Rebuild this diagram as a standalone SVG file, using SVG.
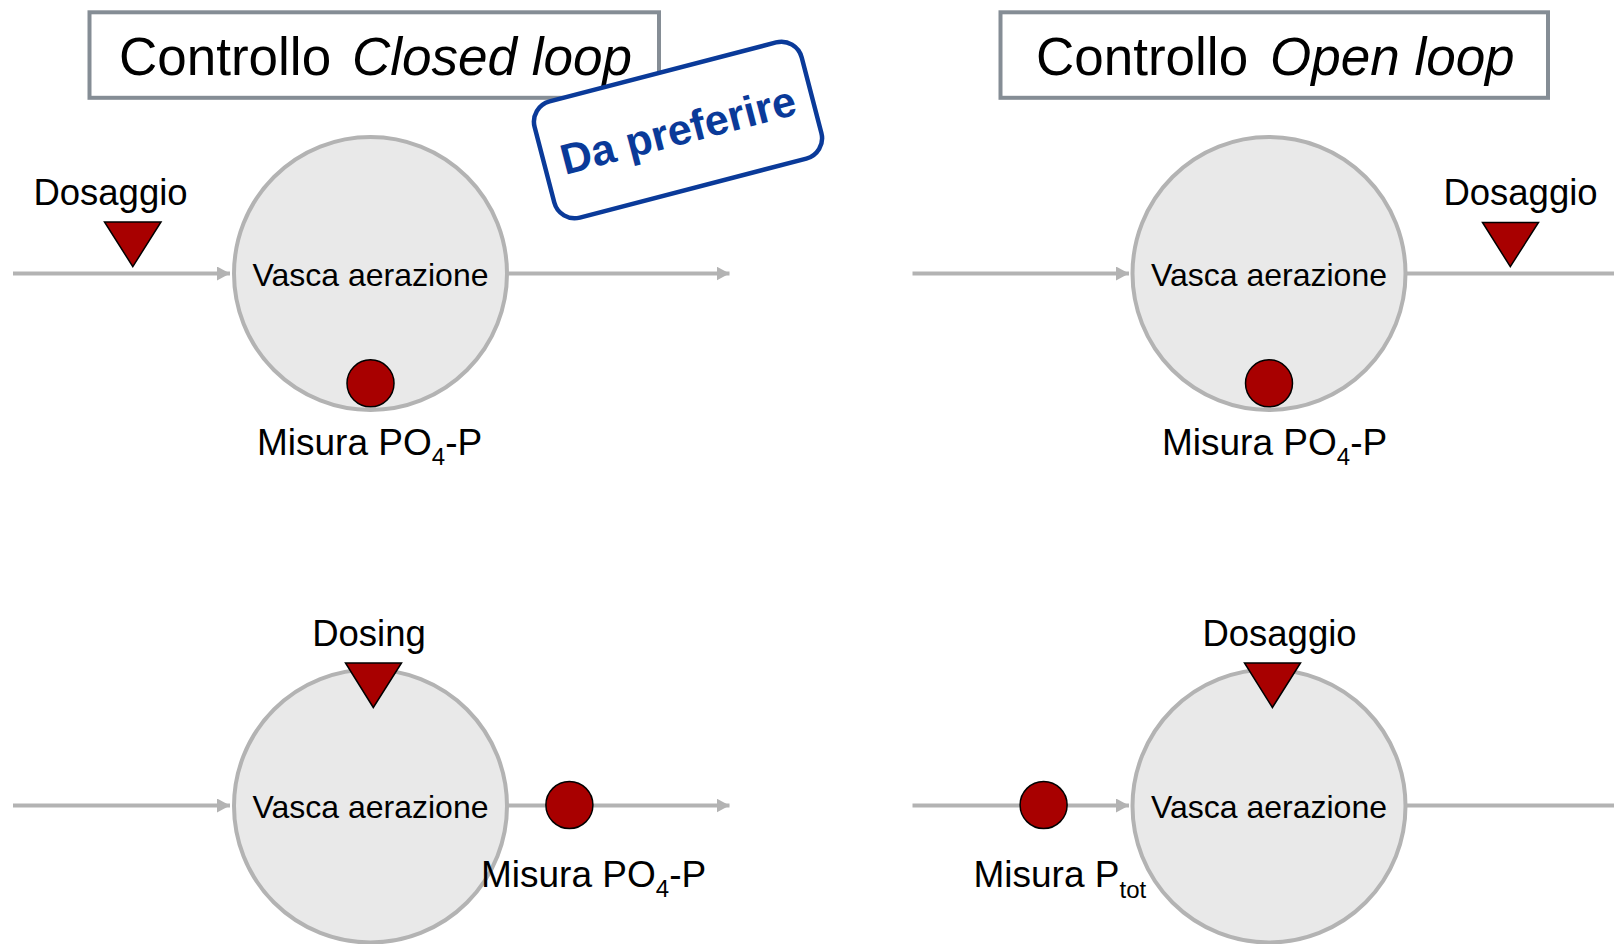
<svg xmlns="http://www.w3.org/2000/svg" width="1614" height="944" viewBox="0 0 1614 944">
<style>
.title{fill:#fff;stroke:#858d95;stroke-width:4}
.tt{font-family:"Liberation Sans",Arial,sans-serif;font-size:53px;fill:#000}
.tank{fill:#e9e9e9;stroke:#b3b3b3;stroke-width:4}
.conn{stroke:#b3b3b3;stroke-width:4;fill:none}
.lbl{font-family:"Liberation Sans",Arial,sans-serif;font-size:36.5px;fill:#000}
.ml{font-family:"Liberation Sans",Arial,sans-serif;font-size:37px;fill:#000}
.tl{font-family:"Liberation Sans",Arial,sans-serif;font-size:32px;fill:#000;text-anchor:middle}
.sub{font-size:24px}
.dose{fill:#a80000;stroke:#000;stroke-width:1.5;stroke-linejoin:miter}
.meas{fill:#a80000;stroke:#000;stroke-width:1.5}
</style>
<defs>
<marker id="arr" viewBox="0 0 13 14" refX="13" refY="7" markerWidth="13" markerHeight="14" markerUnits="userSpaceOnUse" orient="auto">
<path d="M0,0 L13,7 L0,14 z" fill="#b3b3b3"/>
</marker>
</defs>
<rect width="1614" height="944" fill="#fff"/>

<g id="connectors">
<line class="conn" x1="13" y1="273.5" x2="230" y2="273.5" marker-end="url(#arr)"/>
<line class="conn" x1="507" y1="273.5" x2="729.5" y2="273.5" marker-end="url(#arr)"/>
<line class="conn" x1="912.5" y1="273.5" x2="1129" y2="273.5" marker-end="url(#arr)"/>
<line class="conn" x1="1406" y1="273.5" x2="1627" y2="273.5" marker-end="url(#arr)"/>
<line class="conn" x1="13" y1="805.5" x2="230" y2="805.5" marker-end="url(#arr)"/>
<line class="conn" x1="507" y1="805.5" x2="729.5" y2="805.5" marker-end="url(#arr)"/>
<line class="conn" x1="912.5" y1="805.5" x2="1129" y2="805.5" marker-end="url(#arr)"/>
<line class="conn" x1="1406" y1="805.5" x2="1627" y2="805.5" marker-end="url(#arr)"/>
</g>

<g id="title-closed">
<rect class="title" x="89.5" y="12.3" width="569.5" height="85.5"/>
<text class="tt" y="75"><tspan x="119">Controllo</tspan><tspan x="352" font-style="italic">Closed loop</tspan></text>
</g>
<g id="title-open">
<rect class="title" x="1000.5" y="12.3" width="547.5" height="85.5"/>
<text class="tt" y="75"><tspan x="1036">Controllo</tspan><tspan x="1270" font-style="italic">Open loop</tspan></text>
</g>

<g id="tank-tl">
<circle class="tank" cx="370.5" cy="273.5" r="136.5"/>
<text class="tl" x="370.5" y="285.5">Vasca aerazione</text>
</g>
<g id="tank-tr">
<circle class="tank" cx="1269" cy="273.5" r="136.5"/>
<text class="tl" x="1269" y="285.5">Vasca aerazione</text>
</g>
<g id="tank-bl">
<circle class="tank" cx="370.5" cy="806" r="136.5"/>
<text class="tl" x="370.5" y="817.5">Vasca aerazione</text>
</g>
<g id="tank-br">
<circle class="tank" cx="1269" cy="806" r="136.5"/>
<text class="tl" x="1269" y="817.5">Vasca aerazione</text>
</g>

<g id="dose-tl">
<path class="dose" d="M104.5,222 L161,222 L132.8,266.6 z"/>
<text class="lbl" x="110.5" y="205" text-anchor="middle">Dosaggio</text>
</g>
<g id="dose-tr">
<path class="dose" d="M1482.5,222.5 L1538.5,222.5 L1510.3,266.6 z"/>
<text class="lbl" x="1520.5" y="205" text-anchor="middle">Dosaggio</text>
</g>
<g id="dose-bl">
<path class="dose" d="M345.5,663 L401.5,663 L373.3,707.5 z"/>
<text class="lbl" x="369" y="646" text-anchor="middle">Dosing</text>
</g>
<g id="dose-br">
<path class="dose" d="M1244.5,663 L1300.5,663 L1272.4,707.5 z"/>
<text class="lbl" x="1279.5" y="646" text-anchor="middle">Dosaggio</text>
</g>

<g id="meas-tl">
<circle class="meas" cx="370.5" cy="383.3" r="23.5"/>
<text class="ml" x="257" y="455">Misura PO<tspan class="sub" dy="10">4</tspan><tspan dy="-10">-P</tspan></text>
</g>
<g id="meas-tr">
<circle class="meas" cx="1269" cy="383.3" r="23.5"/>
<text class="ml" x="1162" y="455">Misura PO<tspan class="sub" dy="10">4</tspan><tspan dy="-10">-P</tspan></text>
</g>
<g id="meas-bl">
<circle class="meas" cx="569.4" cy="805" r="23.5"/>
<text class="ml" x="481" y="887">Misura PO<tspan class="sub" dy="10">4</tspan><tspan dy="-10">-P</tspan></text>
</g>
<g id="meas-br">
<circle class="meas" cx="1043.6" cy="805" r="23.5"/>
<text class="ml" x="973.5" y="887">Misura P<tspan class="sub" dy="11">tot</tspan></text>
</g>

<g id="stamp" transform="translate(678,130) rotate(-14.6)">
<rect x="-138" y="-60" width="276" height="120" rx="21" ry="21" fill="#fff" stroke="#0a3a99" stroke-width="4.5"/>
<text x="0" y="15" text-anchor="middle" font-family="'Liberation Sans',Arial,sans-serif" font-weight="bold" font-size="43" fill="#0a3a99">Da preferire</text>
</g>
</svg>
